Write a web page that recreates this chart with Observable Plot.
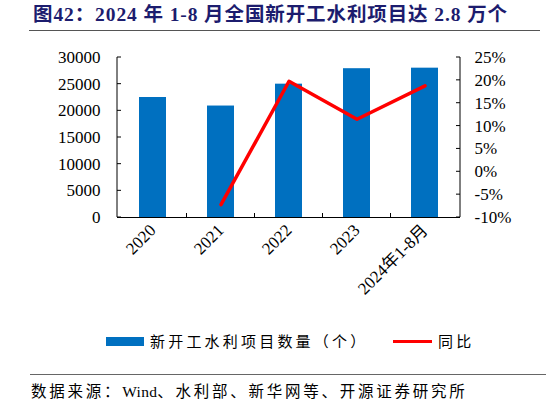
<!DOCTYPE html>
<html><head><meta charset="utf-8">
<script src="https://cdn.jsdelivr.net/npm/d3@7"></script>
<script src="https://cdn.jsdelivr.net/npm/@observablehq/plot@0.6"></script>
<style>
body{margin:0;width:546px;height:405px;position:relative;background:#fff;overflow:hidden;font-family:"Liberation Serif","Noto Sans CJK SC",serif;color:#000}
#title{position:absolute;left:33px;top:3px;font-size:19.5px;letter-spacing:0.9px;font-weight:bold;color:#1c1c6e;white-space:nowrap;line-height:24px}
#tline{position:absolute;left:29px;width:511px;top:30px;border-top:1.5px solid #555}
#chart{position:absolute;left:0;top:40px}
#legend{position:absolute;top:331px;left:0;width:546px;height:22px;font-size:15px;letter-spacing:3.2px;white-space:nowrap}
.sw{position:absolute}
#fline{position:absolute;left:30px;right:0;top:374px;border-top:1.5px solid #666}
#source{position:absolute;left:31px;top:381px;font-size:15.5px;letter-spacing:2.75px;white-space:nowrap;line-height:22px}
</style></head>
<body>
<div id="title">图42：2024 年 1-8 月全国新开工水利项目达 2.8 万个</div>
<div id="tline"></div>
<div id="chart"></div>
<div id="legend">
  <div class="sw" style="left:106px;top:6px;width:38px;height:9px;background:#0070C0"></div>
  <div class="sw" id="lg1" style="left:150px;top:0px;line-height:22px">新开工水利项目数量（个）</div>
  <div class="sw" style="left:393px;top:9px;width:39px;height:3px;background:#FF0000"></div>
  <div class="sw" id="lg2" style="left:438px;top:0px;line-height:22px">同比</div>
</div>
<div id="fline"></div>
<div id="source">数据来源：<span style="letter-spacing:0.3px">Wind</span>、水利部、新华网等、开源证券研究所</div>
<script>
const categories = ["2020", "2021", "2022", "2023", "2024年1-8月"];
const projectCounts = [22500, 20900, 25000, 27900, 28000];
const yoyPct = [null, -7.2, 19.8, 11.5, 18.8];
const leftTicks = [0, 5000, 10000, 15000, 20000, 25000, 30000];
const rightTicks = [-10, -5, 0, 5, 10, 15, 20, 25];

const leftMax = 30000, rMin = -10, rMax = 25;
const toLeft = p => (p - rMin) / (rMax - rMin) * leftMax;
const fromLeft = v => v / leftMax * (rMax - rMin) + rMin;

const bars = categories.map((c, i) => ({cat: c, value: projectCounts[i]}));
const line = categories.map((c, i) => ({cat: c, pct: yoyPct[i]})).filter(d => d.pct != null);

const serif = "'Liberation Serif', 'Noto Sans CJK SC', serif";
const chart = Plot.plot({
  width: 546, height: 270,
  marginTop: 17, marginBottom: 93, marginLeft: 117, marginRight: 86,
  style: {fontFamily: serif, fontSize: "16px", color: "#000", background: "transparent", overflow: "visible"},
  x: {domain: categories, paddingInner: 0.6, paddingOuter: 0.3},
  y: {domain: [0, leftMax]},
  marks: [
    Plot.barY(bars, {x: "cat", y: "value", fill: "#0070C0"}),
    Plot.line(line, {x: "cat", y: d => toLeft(d.pct), stroke: "#FF0000", strokeWidth: 3.5}),
    Plot.ruleY([0], {stroke: "#000", strokeWidth: 1}),
    Plot.axisY({anchor: "left", ticks: leftTicks, tickSize: 0, tickPadding: 17, tickFormat: d => String(d), label: null, fontSize: 17, fontFamily: serif}),
    Plot.axisY({anchor: "right", ticks: rightTicks.map(toLeft), tickSize: 0, tickPadding: 14, tickFormat: v => Math.round(fromLeft(v)) + "%", label: null, fontSize: 17, fontFamily: serif}),
    Plot.axisX({tickSize: 0, tickRotate: -45, tickPadding: 10, label: null, fontSize: 17, fontFamily: serif})
  ]
});
document.getElementById("chart").appendChild(chart);

// axis lines and inward tick marks derived from the scales
const xs = chart.scale("x"), ys = chart.scale("y");
const [xL, xR] = xs.range;
const yB = ys.apply(0), yT = ys.apply(leftMax);
const g = d3.select(chart).append("g").attr("stroke", "#000").attr("stroke-width", 1);
g.append("line").attr("x1", xL).attr("x2", xL).attr("y1", yT).attr("y2", yB);
g.append("line").attr("x1", xR).attr("x2", xR).attr("y1", yT).attr("y2", yB);
leftTicks.forEach(t => g.append("line").attr("x1", xL).attr("x2", xL + 4).attr("y1", ys.apply(t)).attr("y2", ys.apply(t)));
rightTicks.forEach(t => g.append("line").attr("x1", xR).attr("x2", xR - 4).attr("y1", ys.apply(toLeft(t))).attr("y2", ys.apply(toLeft(t))));
const gap = (xs.step - xs.bandwidth) / 2;
categories.slice(1).forEach(c => {
  const bx = xs.apply(c) - gap;
  g.append("line").attr("x1", bx).attr("x2", bx).attr("y1", yB).attr("y2", yB - 4);
});
</script>
</body></html>
